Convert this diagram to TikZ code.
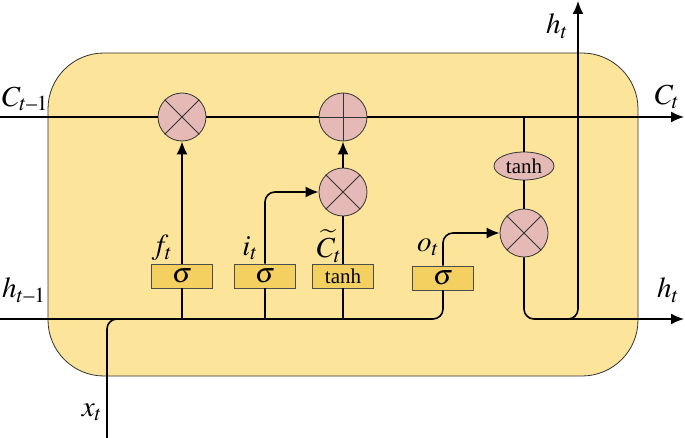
\documentclass[tikz,border=0pt]{standalone}
\usepackage{amsmath}
\usepackage{mathptmx}
\usepackage[no-math]{fontspec}
\setmainfont{Liberation Serif}
\usetikzlibrary{arrows.meta}
\usetikzlibrary{shapes.geometric}
\usetikzlibrary{calc}

\definecolor{cellfill}{RGB}{253,228,155}
\definecolor{gatefill}{RGB}{244,208,96}
\definecolor{opfill}{RGB}{229,185,182}

\tikzset{
	cell/.style={draw=black!80, line width=0.8pt, fill=cellfill, rounded corners=56pt},
	wire/.style={line width=1.6pt},
	arr/.style={-{Latex[length=13pt,width=11pt]}},
	op/.style={circle, draw=black!80, line width=0.8pt, fill=opfill, minimum size=48pt, inner sep=0pt},
	act/.style={ellipse, draw=black!80, line width=0.8pt, fill=opfill, minimum width=60pt, minimum height=28pt, inner sep=0pt, font=\fontsize{21}{21}\selectfont},
	gate/.style={rectangle, draw=black!70, line width=0.8pt, fill=gatefill, minimum width=61pt, minimum height=24pt, inner sep=0pt, font=\fontsize{21}{21}\selectfont},
	lbl/.style={inner sep=0pt, font=\fontsize{29}{29}\selectfont}
}
\newcommand{\sig}{{\fontsize{28}{28}\selectfont$\sigma$}}
\newcommand{\prev}{t\text{–}1}

\begin{document}
\begin{tikzpicture}[x=1pt, y=-1pt]
	\useasboundingbox (0,0) rectangle (685,438);
	\draw[cell] (48,53) rectangle (638,376);

	\coordinate (cin) at (0,117);
	\coordinate (cout) at (684,117);
	\coordinate (hin) at (0,319);
	\coordinate (hout) at (684,319);
	\coordinate (xin) at (107,438);
	\coordinate (htop) at (578,1);

	\node[op] (mulf) at (182,117) {};
	\node[op] (addc) at (343,117) {};
	\node[op] (muli) at (343,192) {};
	\node[op] (mulo) at (524,233) {};
	\node[act] (tanhc) at (524,166) {tanh};
	\node[gate] (sigf) at (182,276) {\sig};
	\node[gate] (sigi) at (265,276) {\sig};
	\node[gate] (tanhi) at (343,276) {tanh};
	\node[gate] (sigo) at (443,278) {\sig};

	\foreach \n in {mulf,muli,mulo}
		\draw[line width=0.8pt, black!80] (\n.north east) -- (\n.south west) (\n.north west) -- (\n.south east);
	\draw[line width=0.8pt, black!80] (addc.north) -- (addc.south) (addc.west) -- (addc.east);

	% cell state
	\draw[wire] (cin) -- (mulf);
	\draw[wire] (mulf) -- (addc);
	\draw[wire, arr] (addc) -- (cout);

	% hidden state and input
	\draw[wire, rounded corners=10pt] (hin) -| (sigo);
	\draw[wire, rounded corners=10pt] (xin) |- (sigf |- hin);
	\draw[wire] (sigf) -- (sigf |- hin);
	\draw[wire] (sigi) -- (sigi |- hin);
	\draw[wire] (tanhi) -- (tanhi |- hin);

	% gates
	\draw[wire, arr] (sigf) -- (mulf);
	\draw[wire, rounded corners=10pt, arr] (sigi) |- (muli);
	\draw[wire] (tanhi) -- (muli);
	\draw[wire, arr] (muli) -- (addc);
	\draw[wire, rounded corners=10pt, arr] (sigo) |- (mulo);
	\draw[wire] (tanhc |- cin) -- (tanhc);
	\draw[wire] (tanhc) -- (mulo);

	% output
	\draw[wire, rounded corners=10pt, arr] (mulo) |- (htop |- hout) -- (htop);
	\draw[wire, arr] ($(mulo |- hout)+(14,0)$) -- (hout);

	\node[lbl, anchor=west] (lcprev) at (2,99) {$C_{\prev}$};
	\node[lbl, anchor=west] (lhprev) at (2,290) {$h_{\prev}$};
	\node[lbl] (lx) at (92,412) {$x_t$};
	\node[lbl] (lhup) at (557,26) {$h_t$};
	\node[lbl] (lc) at (667,97) {$C_t$};
	\node[lbl] (lh) at (668,290) {$h_t$};
	\node[lbl] (lf) at (162,248) {$f_t$};
	\node[lbl] (li) at (250,248) {$i_t$};
	\node[lbl] (lct) at (329,246) {$\widetilde{C}_t$};
	\node[lbl] (lo) at (428,247) {$o_t$};
\end{tikzpicture}
\end{document}
